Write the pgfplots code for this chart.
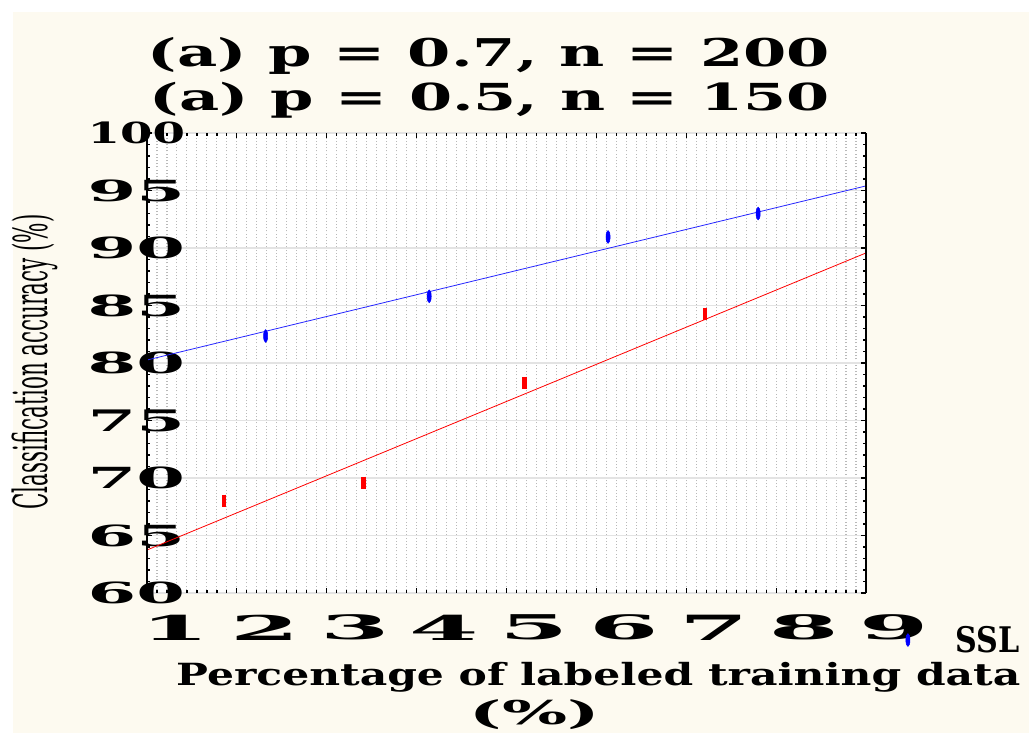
\documentclass[border=0pt]{standalone}
\usepackage{fontspec}
\setmainfont{DejaVu Serif}
\usepackage{graphicx}
\usepackage{pgfplots}
\pgfplotsset{compat=1.18}
\definecolor{cream}{RGB}{253,250,240}
\newcommand{\XL}[1]{\resizebox*{52pt}{19pt}{\bfseries #1}}
\newcommand{\YL}[1]{\resizebox*{73pt}{16.5pt}{\bfseries #1}}

\begin{document}
\begin{tikzpicture}
\fill[white] (-110.25pt,-105pt) rectangle (661.5pt,444.75pt);
\fill[cream] (-100.5pt,-105pt) rectangle (661.5pt,435.75pt);
\path[use as bounding box] (-110.25pt,-105pt) rectangle (661.5pt,444.75pt);
\begin{axis}[
  at={(0,0)}, anchor=south west,
  scale only axis, width=539.25pt, height=345pt,
  xmin=1, xmax=9, ymin=60, ymax=100,
  axis background/.style={fill=white},
  axis line style={draw=none},
  xtick={1,2,3,4,5,6,7,8,9},
  xticklabels={\XL{1},\XL{2},\XL{3},\XL{4},\XL{5},\XL{6},\XL{7},\XL{8},\XL{9}},
  ytick={60,65,70,75,80,85,90,95,100},
  yticklabels={\YL{60},\YL{65},\YL{70},\YL{75},\YL{80},\YL{85},\YL{90},\YL{95},\YL{100}},
  xticklabel style={anchor=center, xshift=21pt, yshift=-26pt},
  yticklabel style={anchor=center, xshift=-8pt},
  minor x tick num=8, minor y tick num=4,
  tick align=inside,
  major tick length=4pt, minor tick length=2pt,
  tick style={black, line width=0.9pt},
  xmajorgrids=true, xminorgrids=true, ymajorgrids=true,
  major x grid style={gray!55, dash pattern=on 0.8pt off 1.6pt, line width=0.8pt},
  minor x grid style={gray!55, dash pattern=on 0.8pt off 1.6pt, line width=0.8pt},
  major y grid style={gray!22, line width=0.8pt},
  legend style={at={(rel axis cs:1.0551,-0.1022)}, anchor=west, draw=none, fill=none, inner sep=0pt},
]
\addplot[only marks, mark=*, blue, mark size=4.8pt, mark options={xscale=0.32}]
  coordinates {(2.32,82.35) (4.14,85.80) (6.13,90.96) (7.80,93.00)};
\addlegendentry{\hspace*{32pt}\resizebox*{48pt}{20pt}{\bfseries SSL}}
\addplot[only marks, mark=|, red, mark size=4.8pt, mark options={line width=3.2pt}, forget plot]
  coordinates {(1.86,68.00) (3.41,69.57) (5.20,78.26) (7.21,84.26)};
\addplot[blue!85, line width=0.6pt, forget plot] coordinates {(1,80.26) (9,95.40)};
\addplot[red, line width=0.6pt, forget plot] coordinates {(1,63.74) (9,89.57)};
\end{axis}
\draw[black, line width=1.5pt] (0,-4pt) -- (0,348pt);
\draw[black, line width=1.5pt] (539.25pt,0) -- (539.25pt,345pt);
\node[inner sep=0pt] at (256.5pt,402.75pt) {\resizebox*{511.5pt}{27.75pt}{\bfseries (a) p = 0.7, n = 200}};
\node[inner sep=0pt] at (257.25pt,369.75pt) {\resizebox*{510pt}{27pt}{\bfseries (a) p = 0.5, n = 150}};
\node[inner sep=0pt] at (-84pt,173.25pt) {\rotatebox{90}{\resizebox*{221.25pt}{34.5pt}{Classification accuracy (\%)}}};
\node[inner sep=0pt] at (338.5pt,-63pt) {\resizebox*{633pt}{22.5pt}{\bfseries Percentage of labeled training data}};
\node[inner sep=0pt] at (291pt,-91.5pt) {\resizebox*{97.5pt}{22.5pt}{\bfseries (\%)}};
\end{tikzpicture}
\end{document}
